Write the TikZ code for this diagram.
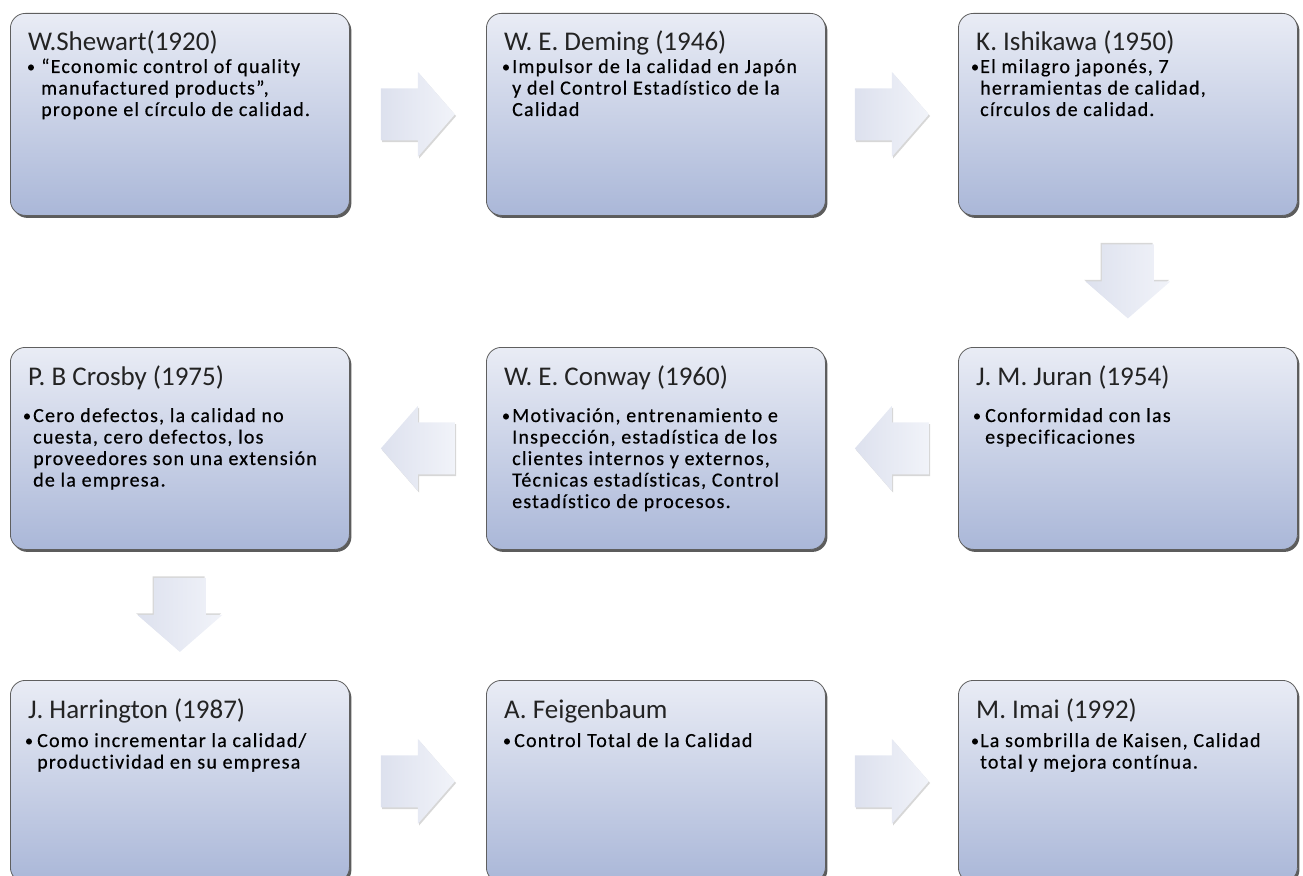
\documentclass[tikz,border=0pt]{standalone}
\usepackage{fontspec}
\setmainfont{Carlito}
\newfontfamily\titlefont[Ligatures=NoCommon]{Carlito}
\newfontfamily\bodyfont[LetterSpace=6, Ligatures=NoCommon, FakeBold=0.5]{Carlito}
\newfontfamily\dotfont[FakeBold=0.5]{Carlito}
\usetikzlibrary{calc,shadows}

\definecolor{boxtop}{RGB}{233,236,245}
\definecolor{boxbot}{RGB}{170,183,216}
\definecolor{boxline}{RGB}{95,95,95}
\definecolor{arrowdark}{RGB}{221,225,238}
\definecolor{arrowlight}{RGB}{241,243,249}
\definecolor{titlecol}{RGB}{35,35,35}

\tikzset{
  stagebox/.style={draw=boxline, line width=0.8pt, rounded corners=15pt,
    top color=boxtop, bottom color=boxbot,
    minimum width=339pt, minimum height=202pt, inner sep=0pt, anchor=north west,
    drop shadow={shadow xshift=2pt, shadow yshift=-2.5pt, fill=black!75, opacity=0.85}},
  stagetitle/.style={anchor=base west, inner sep=0pt, text=titlecol,
    font=\titlefont\fontsize{27}{30}\selectfont},
  bulletmark/.style={anchor=base, inner sep=0pt,
    font=\dotfont\fontsize{16}{18}\selectfont},
  stagetext/.style={anchor=base west, inner sep=0pt,
    font=\bodyfont\fontsize{20}{21.5}\selectfont},
  % block arrow pointing along local +x; #1,#2 offset of its soft edge shadow
  pics/flowarrow/.style 2 args={code={
    \fill[black!35, opacity=0.45, shift={(#1,#2)}]
      (-37,-26) -- (0,-26) -- (0,-42.5) -- (37,0) -- (0,42.5) -- (0,26) -- (-37,26) -- cycle;
    \shade[left color=arrowdark, right color=arrowlight]
      (-37,-26) -- (0,-26) -- (0,-42.5) -- (37,0) -- (0,42.5) -- (0,26) -- (-37,26) -- cycle;
  }}
}

% one card: name, left, top, title, first body baseline, bullet centre x, text x, body lines
\newcommand\stagecard[8]{%
  \node[stagebox] (#1) at (#2,#3) {};
  \node[stagetitle] (#1-title) at ([shift={(18,38)}]#1.north west) {#4};
  \node[bulletmark] (#1-dot) at ([shift={(#6,#5-1)}]#1.north west) {•};
  \node[stagetext] (#1-text) at ([shift={(#7,#5)}]#1.north west)
    {\begin{tabular}[t]{@{}l@{}}#8\end{tabular}};
}

\begin{document}
\begin{tikzpicture}[x=1pt, y=-1pt]
\useasboundingbox (0,0) rectangle (1303,875);
\clip (0,0) rectangle (1303,875);

\stagecard{shewart}{10}{13}{W.Shewart(1920)}{60}{21}{31}
  {“Economic control of quality\\manufactured products”,\\propone el círculo de calidad.}
\stagecard{deming}{486}{13}{W. E. Deming (1946)}{60}{20}{26}
  {Impulsor de la calidad en Japón\\y del Control Estadístico de la\\Calidad}
\stagecard{ishikawa}{958}{13}{K. Ishikawa (1950)}{60}{17}{22}
  {El milagro japonés, 7\\herramientas de calidad,\\círculos de calidad.}

\stagecard{juran}{958}{347}{J. M. Juran (1954)}{75}{19}{27}
  {Conformidad con las\\especificaciones}
\stagecard{conway}{486}{347}{W. E. Conway (1960)}{75}{20}{26}
  {Motivación, entrenamiento e\\Inspección, estadística de los\\clientes internos y externos,\\Técnicas estadísticas, Control\\estadístico de procesos.}
\stagecard{crosby}{10}{347}{P. B Crosby (1975)}{75}{17}{23}
  {Cero defectos, la calidad no\\cuesta, cero defectos, los\\proveedores son una extensión\\de la empresa.}

\stagecard{harrington}{10}{680}{J. Harrington (1987)}{67}{19}{27}
  {Como incrementar la calidad/\\productividad en su empresa}
\stagecard{feigenbaum}{486}{680}{A. Feigenbaum}{67}{21}{28}
  {Control Total de la Calidad}
\stagecard{imai}{958}{680}{M. Imai (1992)}{67}{17}{22}
  {La sombrilla de Kaisen, Calidad\\total y mejora contínua.}

% block arrows between consecutive cards
\pic at ($(shewart.east)!0.5!(deming.west)$) {flowarrow={1.2}{1.6}};
\pic at ($(deming.east)!0.5!(ishikawa.west)$) {flowarrow={1.2}{1.6}};
\pic[rotate=-90] at ($(ishikawa.south)!0.5!(juran.north)$) {flowarrow={-1.6}{1.2}};
\pic[rotate=180] at ($(juran.west)!0.5!(conway.east)$) {flowarrow={-1.2}{-1.6}};
\pic[rotate=180] at ($(conway.west)!0.5!(crosby.east)$) {flowarrow={-1.2}{-1.6}};
\pic[rotate=-90] at ($(crosby.south)!0.5!(harrington.north)$) {flowarrow={-1.6}{1.2}};
\pic at ($(harrington.east)!0.5!(feigenbaum.west)$) {flowarrow={1.2}{1.6}};
\pic at ($(feigenbaum.east)!0.5!(imai.west)$) {flowarrow={1.2}{1.6}};
\end{tikzpicture}
\end{document}
